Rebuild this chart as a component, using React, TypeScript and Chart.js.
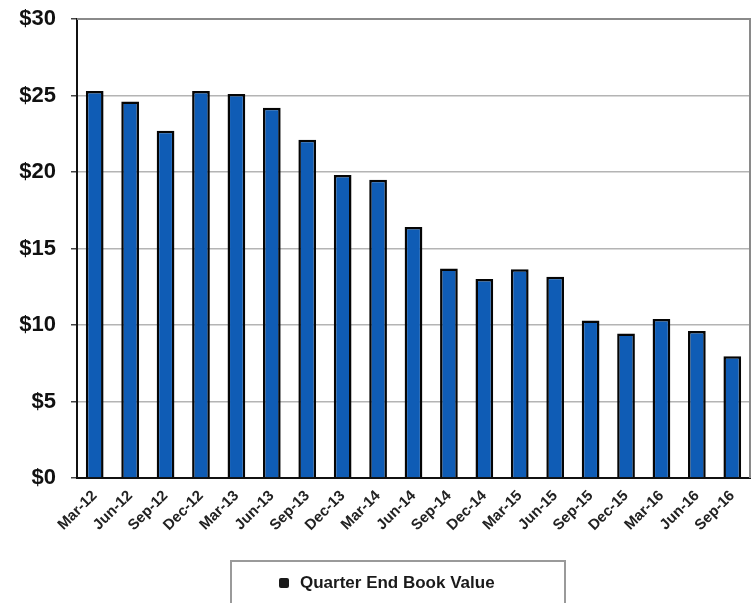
import React, { useEffect, useRef } from "react";
import { Chart, registerables } from "chart.js";

Chart.register(...registerables);

const categories = [
  "Mar-12", "Jun-12", "Sep-12", "Dec-12", "Mar-13", "Jun-13", "Sep-13", "Dec-13",
  "Mar-14", "Jun-14", "Sep-14", "Dec-14", "Mar-15", "Jun-15", "Sep-15", "Dec-15",
  "Mar-16", "Jun-16", "Sep-16",
];
const bookValues = [
  25.3, 24.6, 22.7, 25.3, 25.1, 24.2, 22.1, 19.8,
  19.5, 16.4, 13.7, 13.0, 13.65, 13.15, 10.3, 9.45,
  10.4, 9.6, 7.95,
];
const seriesLabel = "Quarter End Book Value";
const yTicks = [0, 5, 10, 15, 20, 25, 30];

const FONT = "'Liberation Sans', Arial, sans-serif";

const framePlugin = {
  id: "frame",
  beforeDatasetsDraw(chart: any) {
    const { ctx, chartArea } = chart;
    ctx.save();
    ctx.strokeStyle = "#8a8a8a";
    ctx.lineWidth = 2;
    ctx.beginPath();
    ctx.moveTo(chartArea.left, chartArea.top);
    ctx.lineTo(chartArea.right, chartArea.top);
    ctx.lineTo(chartArea.right, chartArea.bottom);
    ctx.stroke();
    ctx.restore();
  },
  afterDraw(chart: any) {
    const { ctx } = chart;
    ctx.save();
    ctx.strokeStyle = "#9a9a9a";
    ctx.lineWidth = 2;
    ctx.strokeRect(231, 561, 334, 60);
    ctx.fillStyle = "#1a1a1a";
    ctx.beginPath();
    (ctx as any).roundRect ? (ctx as any).roundRect(279, 578, 10, 10, 2) : ctx.rect(279, 578, 10, 10);
    ctx.fill();
    ctx.fillStyle = "#1a1a1a";
    ctx.font = `bold 17px ${FONT}`;
    ctx.textBaseline = "middle";
    ctx.textAlign = "left";
    ctx.fillText(chart.data.datasets[0].label, 300, 583);
    ctx.restore();
  },
};

export default function App() {
  const ref = useRef<HTMLCanvasElement | null>(null);
  useEffect(() => {
    if (!ref.current) return;
    const chart = new Chart(ref.current, {
      type: "bar",
      data: {
        labels: categories,
        datasets: [
          {
            label: seriesLabel,
            data: bookValues,
            backgroundColor: "#0f5cb5",
            borderColor: "#050505",
            borderWidth: 2.5,
            barPercentage: 0.5,
            categoryPercentage: 1,
          },
        ],
      },
      options: {
        animation: false,
        responsive: true,
        maintainAspectRatio: false,
        layout: { padding: { top: 19, right: 2, left: 0, bottom: 0 } },
        plugins: {
          legend: { display: false },
          tooltip: { enabled: false },
        },
        scales: {
          x: {
            grid: { display: false, drawTicks: false },
            border: { color: "#111", width: 2 },
            ticks: {
              color: "#222",
              font: { family: FONT, size: 15, weight: "bold" },
              maxRotation: 45,
              minRotation: 45,
              autoSkip: false,
              padding: 9,
            },
            afterFit(scale: any) {
              scale.height = 125;
              scale.paddingLeft = 0;
              scale.paddingRight = 0;
            },
          },
          y: {
            min: 0,
            max: 30,
            afterBuildTicks(scale: any) {
              scale.ticks = yTicks.map((v) => ({ value: v }));
            },
            grid: {
              color: (c: any) => (c.tick && c.tick.value === 30 ? "rgba(0,0,0,0)" : "#b4b4b4"),
              lineWidth: 1.5,
              tickLength: 6,
              tickColor: "#444",
            },
            border: { color: "#111", width: 2 },
            ticks: {
              color: "#111",
              font: { family: FONT, size: 22, weight: "bold" },
              padding: 15,
              callback: (v: any) => "$" + v,
            },
            afterFit(scale: any) {
              scale.width = 77;
              scale.paddingTop = 0;
              scale.paddingBottom = 0;
            },
          },
        },
      },
      plugins: [framePlugin],
    });
    return () => chart.destroy();
  }, []);

  return (
    <div style={{ position: "absolute", left: 0, top: 0, width: 752, height: 603, background: "#fff" }}>
      <canvas ref={ref} />
    </div>
  );
}
